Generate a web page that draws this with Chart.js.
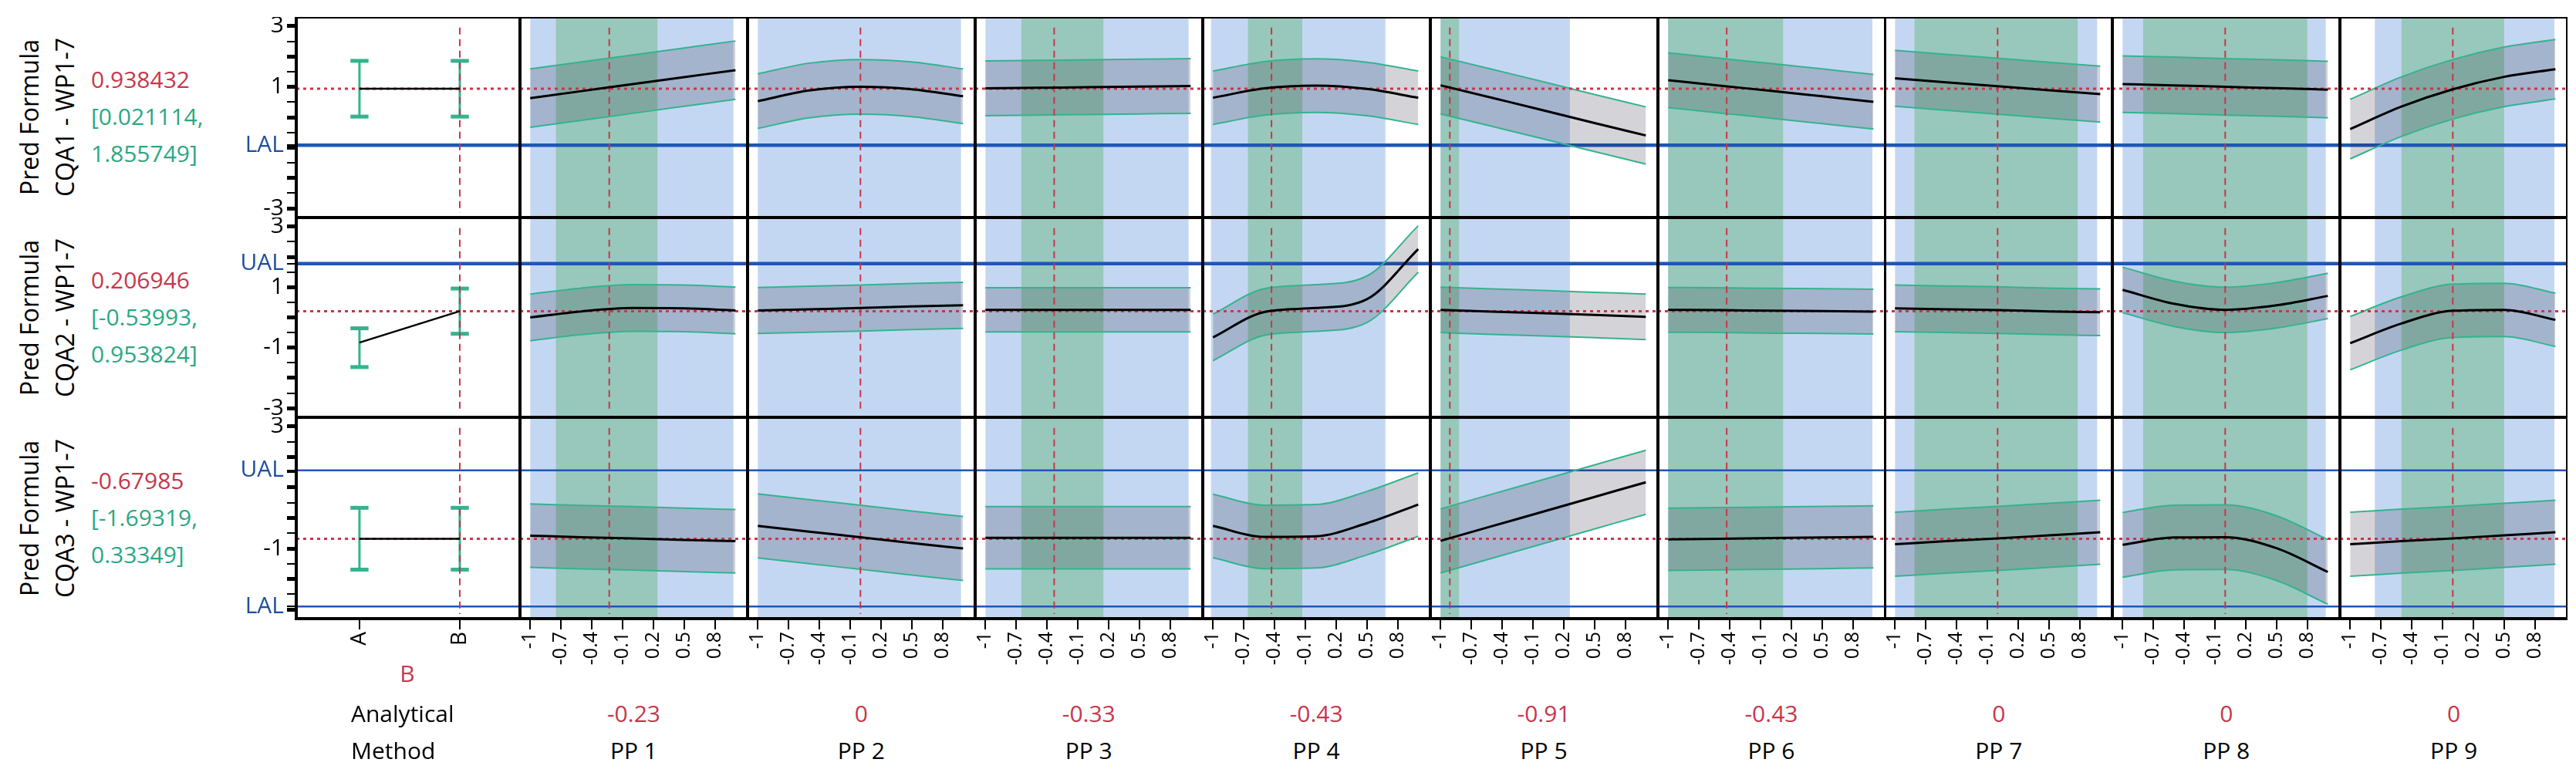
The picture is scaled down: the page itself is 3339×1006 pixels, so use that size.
<!DOCTYPE html>
<html>
<head>
<meta charset="utf-8">
<script src="https://cdn.jsdelivr.net/npm/chart.js@4.4.1/dist/chart.umd.min.js"></script>
<style>
  body { margin: 0; background: #fff; width: 3339px; height: 1006px; position: relative; overflow: hidden; font-family: 'Open Sans', sans-serif; }
  canvas { position: absolute; }
  .txt { position: absolute; white-space: nowrap; font-size: 30px; line-height: 1; }
  .rot { position: absolute; white-space: nowrap; font-size: 32px; line-height: 1; transform: translate(-50%, -50%) rotate(-90deg); }
  .red { color: #c8364a; }
  .green { color: #2aa883; }
</style>
</head>
<body>
<script>
// data
const xGrid = [-1, -0.5, 0, 0.5, 1];
const factorNames = ['PP 1', 'PP 2', 'PP 3', 'PP 4', 'PP 5', 'PP 6', 'PP 7', 'PP 8', 'PP 9'];
const factorSettings = [-0.23, 0, -0.33, -0.43, -0.91, -0.43, 0, 0, 0];
const responseNames = ['CQA1 - WP1-7', 'CQA2 - WP1-7', 'CQA3 - WP1-7'];
const predValues = ['0.938432', '0.206946', '-0.67985'];
const ciLowText = ['[0.021114,', '[-0.53993,', '[-1.69319,'];
const ciHighText = ['1.855749]', '0.953824]', '0.33349]'];
const predNum = [0.938432, 0.206946, -0.67985];
const ualValues = [null, 1.78, 1.56];
const lalValues = [-0.92, null, -2.9];

const methodLevels = ['A', 'B'];
const methodMean = [[0.938432, 0.938432], [-0.83, 0.206946], [-0.67985, -0.67985]];
const methodLow = [[0.021114, 0.021114], [-1.64, -0.53993], [-1.69319, -1.69319]];
const methodHigh = [[1.855749, 1.855749], [-0.36, 0.953824], [0.33349, 0.33349]];

const cqa1Mean = [
  [0.63, 0.86, 1.09, 1.32, 1.55], [0.53, 0.88, 1.0, 0.92, 0.69], [0.95, 0.97, 0.99, 1.01, 1.03],
  [0.64, 0.95, 1.04, 0.93, 0.64], [1.05, 0.64, 0.23, -0.19, -0.6], [1.22, 1.04, 0.87, 0.69, 0.51],
  [1.28, 1.15, 1.02, 0.89, 0.76], [1.09, 1.05, 1.0, 0.96, 0.91], [-0.39, 0.35, 0.92, 1.33, 1.58]
];
const cqa1Half = [0.96, 0.9, 0.9, 0.88, 0.94, 0.9, 0.92, 0.93, 0.98];
const cqa2Mean = [
  [0.0, 0.2, 0.31, 0.3, 0.23], [0.23, 0.27, 0.31, 0.36, 0.4], [0.25, 0.25, 0.25, 0.25, 0.25],
  [-0.66, 0.18, 0.31, 0.6, 2.26], [0.25, 0.19, 0.14, 0.08, 0.02], [0.25, 0.24, 0.22, 0.21, 0.19],
  [0.3, 0.27, 0.24, 0.2, 0.17], [0.91, 0.45, 0.25, 0.4, 0.71], [-0.85, -0.2, 0.22, 0.25, -0.08]
];
const cqa2Half = [0.77, 0.76, 0.73, 0.77, 0.75, 0.74, 0.77, 0.75, 0.88];
const cqa3Mean = [
  [-0.58, -0.63, -0.67, -0.72, -0.76], [-0.26, -0.45, -0.63, -0.82, -1.0], [-0.65, -0.65, -0.65, -0.65, -0.65],
  [-0.26, -0.62, -0.6, -0.17, 0.44], [-0.75, -0.27, 0.21, 0.69, 1.17], [-0.7, -0.68, -0.66, -0.64, -0.62],
  [-0.86, -0.76, -0.67, -0.57, -0.47], [-0.88, -0.64, -0.63, -0.99, -1.77], [-0.86, -0.76, -0.67, -0.57, -0.47]
];
const cqa3Half = [1.04, 1.05, 1.02, 1.04, 1.05, 1.02, 1.05, 1.06, 1.05];

const blueZone = [[-1, 0.98], [-1, 0.98], [-1, 0.98], [-1.02, 0.68], [-1, 0.26], [-1, 0.99], [-1, 0.97], [-1, 0.98], [-0.76, 0.99]];
const greenZone = [[-0.75, 0.24], null, [-0.65, 0.15], [-0.66, -0.13], [-1, -0.82], [-1, 0.12], [-0.81, 0.78], [-0.8, 0.8], [-0.5, 0.5]];

const yTicks = [3, 2.5, 2, 1.5, 1, 0.5, 0, -0.5, -1, -1.5, -2, -2.5, -3];
const yLabelsByRow = [[3, 1, -3], [3, 1, -1, -3], [3, -1]];
const xTicks = [-1, -0.7, -0.4, -0.1, 0.2, 0.5, 0.8];

const allMeans = [cqa1Mean, cqa2Mean, cqa3Mean];
const allHalves = [cqa1Half, cqa2Half, cqa3Half];

// layout
const rowTop = [22, 282, 541];
const rowH = [260, 259, 261];
const col0Left = 384, col0W = 290, colW = 294.9, axisW = 72, axisH = 88;
const RED = '#c8364a', TEAL = '#35b38e', BLUE = '#1f56b8';

Chart.defaults.font.family = "'Open Sans', sans-serif";

const framePlugin = {
  id: 'frame',
  beforeDatasetsDraw(chart, args, opts) {
    const { ctx, chartArea: a, scales: { x } } = chart;
    ctx.save();
    if (opts.blue) {
      ctx.fillStyle = '#c4d7f2';
      const l = x.getPixelForValue(opts.blue[0]), r = x.getPixelForValue(opts.blue[1]);
      ctx.fillRect(l, a.top, r - l, a.bottom - a.top);
    }
    if (opts.green) {
      ctx.fillStyle = '#97c8bb';
      const l = x.getPixelForValue(opts.green[0]), r = x.getPixelForValue(opts.green[1]);
      ctx.fillRect(l, a.top, r - l, a.bottom - a.top);
    }
    ctx.restore();
  },
  afterDraw(chart) {
    const { ctx, chartArea: a } = chart;
    ctx.save();
    ctx.strokeStyle = '#000';
    ctx.lineWidth = 4;
    ctx.strokeRect(a.left, a.top, a.right - a.left, a.bottom - a.top);
    ctx.restore();
  }
};

function lineSet(data, color, width, dash) {
  return { data, borderColor: color, borderWidth: width, borderDash: dash || [], pointRadius: 0, fill: false, tension: 0 };
}

function makePanel(row, col) {
  const first = col === 0, bottom = row === 2;
  const left = first ? col0Left - axisW : col0Left + col0W + (col - 1) * colW;
  const w = first ? col0W + axisW : colW;
  const h = rowH[row] + (bottom ? axisH : 0);
  const cv = document.createElement('canvas');
  cv.width = Math.round(w); cv.height = h;
  cv.style.left = left + 'px'; cv.style.top = rowTop[row] + 'px';
  document.body.appendChild(cv);

  const xMin = first ? -0.63 : -1.1, xMax = first ? 1.6 : 1.118;
  const cur = first ? 1 : factorSettings[col - 1];
  const datasets = [];
  if (first) {
    datasets.push(lineSet([{ x: 0, y: methodMean[row][0] }, { x: 1, y: methodMean[row][1] }], '#000', 2.5));
  } else {
    datasets.push(Object.assign(lineSet(xGrid.map((x, i) => ({ x, y: allMeans[row][col - 1][i] })), '#000', 3), { cubicInterpolationMode: 'monotone' }));
  }
  datasets.push(lineSet([{ x: xMin, y: predNum[row] }, { x: xMax, y: predNum[row] }], RED, 3, [4, 5]));
  datasets.push(lineSet([{ x: cur, y: 2.95 }, { x: cur, y: -3.15 }], RED, 2, [9, 6]));
  if (first) {
    for (let k = 0; k < 2; k++) {
      const lo = methodLow[row][k], hi = methodHigh[row][k];
      datasets.push(lineSet([{ x: k, y: lo }, { x: k, y: hi }], TEAL, 3));
      datasets.push(lineSet([{ x: k - 0.09, y: hi }, { x: k + 0.09, y: hi }], TEAL, 5));
      datasets.push(lineSet([{ x: k - 0.09, y: lo }, { x: k + 0.09, y: lo }], TEAL, 5));
    }
  } else {
    const m = allMeans[row][col - 1], hw = allHalves[row][col - 1];
    const upIdx = datasets.length;
    datasets.push(Object.assign(lineSet(xGrid.map((x, i) => ({ x, y: m[i] + hw })), TEAL, 2), { cubicInterpolationMode: 'monotone' }));
    datasets.push(Object.assign(lineSet(xGrid.map((x, i) => ({ x, y: m[i] - hw })), TEAL, 2),
      { cubicInterpolationMode: 'monotone', fill: upIdx, backgroundColor: 'rgba(40,40,60,0.2)' }));
  }
  const thick = row === 2 ? 2.5 : 4.5;
  if (ualValues[row] !== null) datasets.push(lineSet([{ x: xMin, y: ualValues[row] }, { x: xMax, y: ualValues[row] }], BLUE, thick));
  if (lalValues[row] !== null) datasets.push(lineSet([{ x: xMin, y: lalValues[row] }, { x: xMax, y: lalValues[row] }], BLUE, thick));

  const yList = yTicks.slice();
  if (ualValues[row] !== null) yList.push(ualValues[row]);
  if (lalValues[row] !== null) yList.push(lalValues[row]);

  new Chart(cv, {
    type: 'line',
    data: { datasets },
    plugins: [framePlugin],
    options: {
      responsive: false, animation: false, devicePixelRatio: 1, events: [],
      layout: { padding: 0, autoPadding: false },
      plugins: {
        legend: { display: false }, tooltip: { enabled: false },
        frame: { blue: first ? null : blueZone[col - 1], green: first ? null : greenZone[col - 1] }
      },
      scales: {
        x: {
          type: 'linear', min: xMin, max: xMax, display: bottom,
          afterBuildTicks: s => { s.ticks = (first ? [0, 1] : xTicks).map(v => ({ value: v })); },
          afterFit: s => { if (bottom) { s.height = axisH; s.paddingLeft = 0; s.paddingRight = 0; } },
          border: { display: false },
          grid: { drawOnChartArea: false, color: '#000', lineWidth: 2, tickLength: 14 },
          ticks: {
            autoSkip: false, minRotation: 90, maxRotation: 90, color: '#000', padding: 3,
            font: { size: first ? 28 : 25 },
            callback: v => first ? methodLevels[v] : String(v)
          }
        },
        y: {
          type: 'linear', min: -3.3, max: 3.3, display: first,
          afterBuildTicks: s => { s.ticks = yList.map(v => ({ value: v })); },
          afterFit: s => { if (first) { s.width = axisW; s.paddingTop = 0; s.paddingBottom = 0; } },
          border: { display: false },
          grid: {
            drawOnChartArea: false, color: '#000', tickLength: 12,
            lineWidth: c => (Number.isInteger(c.tick.value) ? 5 : 2)
          },
          ticks: {
            autoSkip: false,
            color: c => (c.tick.value === ualValues[row] || c.tick.value === lalValues[row]) ? '#1f4fa0' : '#000',
            font: { size: 30 }, padding: 4,
            callback: v => {
              if (v === ualValues[row]) return 'UAL';
              if (v === lalValues[row]) return 'LAL';
              return yLabelsByRow[row].includes(v) ? String(v) : '';
            }
          }
        }
      }
    }
  });
}

for (let r = 0; r < 3; r++) for (let c = 0; c < 10; c++) makePanel(r, c);

function addText(cls, text, x, y, extra) {
  const d = document.createElement('div');
  d.className = cls;
  d.textContent = text;
  d.style.left = x + 'px';
  d.style.top = y + 'px';
  if (extra) Object.assign(d.style, extra);
  document.body.appendChild(d);
  return d;
}

for (let r = 0; r < 3; r++) {
  const cy = rowTop[r] + rowH[r] / 2;
  addText('rot', 'Pred Formula', 38, cy);
  addText('rot', responseNames[r], 84, cy);
  addText('txt red', predValues[r], 118, cy - 64);
  addText('txt green', ciLowText[r], 118, cy - 16);
  addText('txt green', ciHighText[r], 118, cy + 32);
}

addText('txt red', 'B', 528, 858, { transform: 'translateX(-50%)' });
addText('txt', 'Analytical', 455, 910);
addText('txt', 'Method', 455, 958);
for (let i = 0; i < 9; i++) {
  const cx = col0Left + col0W + (i + 0.5) * colW;
  addText('txt red', String(factorSettings[i]), cx, 910, { transform: 'translateX(-50%)' });
  addText('txt', factorNames[i], cx, 958, { transform: 'translateX(-50%)' });
}
</script>
</body>
</html>
